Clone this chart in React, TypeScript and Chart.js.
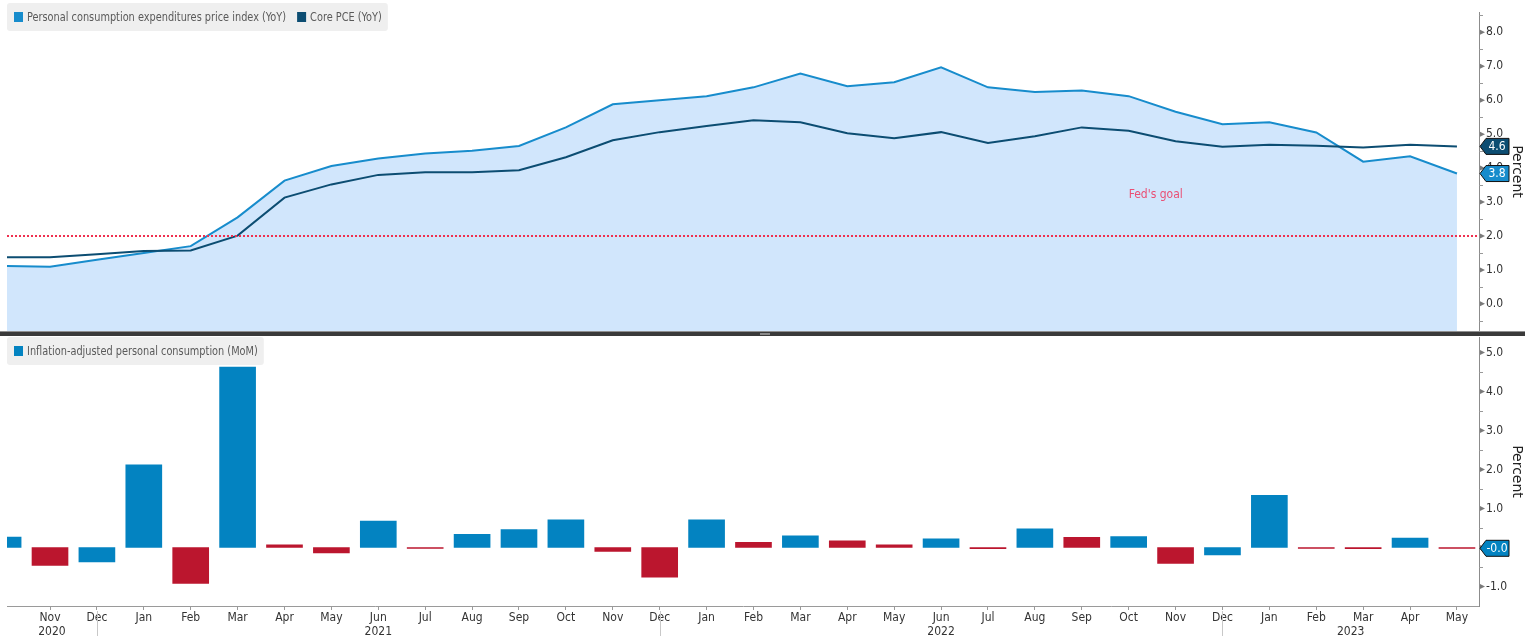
import React, { useEffect, useRef } from 'react';
import { Chart, registerables } from 'chart.js';

Chart.register(...registerables);

// ---------- data ----------
// index 0 = Oct 2020 ... index 31 = May 2023
const MONTHS = [
  'Oct', 'Nov', 'Dec',
  'Jan', 'Feb', 'Mar', 'Apr', 'May', 'Jun', 'Jul', 'Aug', 'Sep', 'Oct', 'Nov', 'Dec',
  'Jan', 'Feb', 'Mar', 'Apr', 'May', 'Jun', 'Jul', 'Aug', 'Sep', 'Oct', 'Nov', 'Dec',
  'Jan', 'Feb', 'Mar', 'Apr', 'May',
];
const YEARS = ['2020', '2021', '2022', '2023'];

const PCE_YOY = [
  1.12, 1.09, 1.3, 1.5, 1.7, 2.55, 3.63, 4.06, 4.28, 4.43, 4.51, 4.65, 5.2, 5.88, 6.0,
  6.12, 6.38, 6.79, 6.41, 6.53, 6.97, 6.38, 6.24, 6.29, 6.12, 5.66, 5.29,
  5.35, 5.05, 4.19, 4.35, 3.84,
];
const CORE_PCE_YOY = [
  1.37, 1.37, 1.46, 1.56, 1.57, 2.01, 3.13, 3.52, 3.8, 3.88, 3.88, 3.94, 4.32, 4.82, 5.06,
  5.24, 5.41, 5.35, 5.03, 4.88, 5.06, 4.74, 4.94, 5.2, 5.1, 4.79, 4.63,
  4.69, 4.66, 4.61, 4.69, 4.64,
];
const REAL_CONSUMPTION_MOM = [
  0.27, -0.46, -0.37, 2.12, -0.92, 4.63, 0.07, -0.14, 0.68, -0.02, 0.34, 0.46, 0.71, -0.1, -0.76,
  0.71, 0.13, 0.3, 0.17, 0.07, 0.22, -0.03, 0.48, 0.26, 0.28, -0.41, -0.19,
  1.34, -0.02, -0.03, 0.24, -0.02,
];
const FED_GOAL = 2.0;
const FED_LABEL = "Fed's goal";

const TOP_TICKS = [0, 1, 2, 3, 4, 5, 6, 7, 8];
const TOP_MINOR = [-0.5, 0.5, 1.5, 2.5, 3.5, 4.5, 5.5, 6.5, 7.5, 8.5];
const BOT_TICKS = [-1, 0, 1, 2, 3, 4, 5];
const BOT_MINOR = [-0.5, 0.5, 1.5, 2.5, 3.5, 4.5];

const LEGEND_TOP = ['Personal consumption expenditures price index (YoY)', 'Core PCE (YoY)'];
const LEGEND_BOT = ['Inflation-adjusted personal consumption (MoM)'];

// ---------- styles ----------
const FONT = '"DejaVu Sans Condensed", "Liberation Sans Narrow", "Arial Narrow", sans-serif';
const PCE_COLOR = '#178ccc';
const CORE_COLOR = '#0c4d72';
const FILL_COLOR = '#d1e6fc';
const BAR_UP = '#0383c1';
const BAR_DOWN = '#bb162e';
const FED_COLOR = '#f0304f';
const AXIS_COLOR = '#8c8c8c';
const X_MIN = 0.083;
const X_MAX = 31.47;
const LEGEND_SX = 0.835;

Chart.defaults.font.family = FONT;

function drawLegend(ctx: CanvasRenderingContext2D, x: number, y: number, labels: string[], colors: string[]) {
  ctx.save();
  ctx.font = `13px ${FONT}`;
  let cx = x + 7;
  const items: { sx: number; tx: number; label: string; color: string }[] = [];
  labels.forEach((label, i) => {
    const w = ctx.measureText(label).width * LEGEND_SX;
    items.push({ sx: cx, tx: cx + 13, label, color: colors[i] });
    cx = cx + 13 + w + 11;
  });
  const boxW = cx - 11 + 6 - x;
  ctx.fillStyle = '#efefef';
  ctx.beginPath();
  (ctx as any).roundRect ? (ctx as any).roundRect(x, y, boxW, 28, 3) : ctx.rect(x, y, boxW, 28);
  ctx.fill();
  ctx.textBaseline = 'middle';
  ctx.textAlign = 'left';
  items.forEach((it) => {
    ctx.fillStyle = it.color;
    ctx.fillRect(it.sx, y + 9, 9, 10);
    ctx.fillStyle = '#5a5a5a';
    ctx.save();
    ctx.translate(it.tx, y + 15);
    ctx.scale(LEGEND_SX, 1);
    ctx.fillText(it.label, 0, 0);
    ctx.restore();
  });
  ctx.restore();
}

function drawBadge(ctx: CanvasRenderingContext2D, ax: number, py: number, text: string, color: string) {
  ctx.save();
  ctx.beginPath();
  ctx.moveTo(ax + 1, py);
  ctx.lineTo(ax + 7, py - 8);
  ctx.lineTo(ax + 30, py - 8);
  ctx.lineTo(ax + 30, py + 8);
  ctx.lineTo(ax + 7, py + 8);
  ctx.closePath();
  ctx.fillStyle = color;
  ctx.fill();
  ctx.strokeStyle = '#111';
  ctx.lineWidth = 1;
  ctx.stroke();
  ctx.fillStyle = '#ffffff';
  ctx.font = `12px ${FONT}`;
  ctx.textAlign = 'center';
  ctx.textBaseline = 'middle';
  ctx.fillText(text, ax + 18, py + 0.5);
  ctx.restore();
}

function drawAxisMarks(chart: any, major: number[], minor: number[]) {
  const ctx: CanvasRenderingContext2D = chart.ctx;
  const ys = chart.scales.y;
  const ax = ys.left;
  ctx.save();
  ctx.fillStyle = '#7a7a7a';
  major.forEach((v) => {
    const py = ys.getPixelForValue(v);
    ctx.beginPath();
    ctx.moveTo(ax + 1, py - 2.5);
    ctx.lineTo(ax + 6, py);
    ctx.lineTo(ax + 1, py + 2.5);
    ctx.closePath();
    ctx.fill();
  });
  ctx.strokeStyle = '#999';
  ctx.lineWidth = 1;
  minor.forEach((v) => {
    const py = Math.round(ys.getPixelForValue(v)) + 0.5;
    ctx.beginPath();
    ctx.moveTo(ax, py);
    ctx.lineTo(ax + 4, py);
    ctx.stroke();
  });
  ctx.restore();
}

const topDecor = {
  id: 'topDecor',
  afterDatasetsDraw(chart: any) {
    const ctx: CanvasRenderingContext2D = chart.ctx;
    const xs = chart.scales.x;
    const ys = chart.scales.y;
    const area = chart.chartArea;
    ctx.save();
    const gy = Math.round(ys.getPixelForValue(FED_GOAL));
    ctx.strokeStyle = FED_COLOR;
    ctx.lineWidth = 2;
    ctx.setLineDash([2, 2]);
    ctx.beginPath();
    ctx.moveTo(area.left, gy);
    ctx.lineTo(area.right, gy);
    ctx.stroke();
    ctx.setLineDash([]);
    ctx.fillStyle = '#ea4f74';
    ctx.font = `12px ${FONT}`;
    ctx.textAlign = 'left';
    ctx.textBaseline = 'middle';
    ctx.fillText(FED_LABEL, xs.getPixelForValue(24), ys.getPixelForValue(3.2));
    ctx.restore();
  },
  afterDraw(chart: any) {
    const ctx: CanvasRenderingContext2D = chart.ctx;
    const ys = chart.scales.y;
    const area = chart.chartArea;
    drawAxisMarks(chart, TOP_TICKS, TOP_MINOR);
    ctx.save();
    ctx.fillStyle = '#8f8f8f';
    ctx.fillRect(0, area.bottom, 1525, 1);
    ctx.fillStyle = '#3a3a3a';
    ctx.fillRect(0, area.bottom + 1, 1525, 4);
    ctx.fillStyle = '#8a8a8a';
    ctx.fillRect(760, area.bottom + 2, 10, 2);
    ctx.restore();
    drawLegend(ctx, 7, 3, LEGEND_TOP, [PCE_COLOR, CORE_COLOR]);
    const lastCore = CORE_PCE_YOY[CORE_PCE_YOY.length - 1];
    const lastPce = PCE_YOY[PCE_YOY.length - 1];
    drawBadge(ctx, ys.left, ys.getPixelForValue(lastCore), lastCore.toFixed(1), CORE_COLOR);
    drawBadge(ctx, ys.left, ys.getPixelForValue(lastPce), lastPce.toFixed(1), PCE_COLOR);
  },
};

const botDecor = {
  id: 'botDecor',
  afterDraw(chart: any) {
    const ctx: CanvasRenderingContext2D = chart.ctx;
    const xs = chart.scales.x;
    const ys = chart.scales.y;
    drawAxisMarks(chart, BOT_TICKS, BOT_MINOR);
    const decIdx = MONTHS.map((m, i) => (m === 'Dec' ? i : -1)).filter((i) => i >= 0);
    const bounds = [xs.left, ...decIdx.map((i) => xs.getPixelForValue(i)), xs.right];
    ctx.save();
    ctx.strokeStyle = '#c8c8c8';
    ctx.lineWidth = 1;
    decIdx.forEach((i) => {
      const px = Math.round(xs.getPixelForValue(i)) + 0.5;
      ctx.beginPath();
      ctx.moveTo(px, xs.top + 5);
      ctx.lineTo(px, chart.height);
      ctx.stroke();
    });
    ctx.fillStyle = '#333';
    ctx.font = `12px ${FONT}`;
    ctx.textAlign = 'center';
    ctx.textBaseline = 'middle';
    YEARS.forEach((yr, k) => {
      const mid = (bounds[k] + bounds[k + 1]) / 2;
      ctx.fillText(yr, mid, xs.top + 26);
    });
    ctx.restore();
    drawLegend(ctx, 7, 1, LEGEND_BOT, [BAR_UP]);
    const last = REAL_CONSUMPTION_MOM[REAL_CONSUMPTION_MOM.length - 1];
    drawBadge(ctx, ys.left, ys.getPixelForValue(last), last.toFixed(1), BAR_UP);
  },
};

function yAxis(min: number, max: number, ticks: number[]) {
  return {
    type: 'linear' as const,
    position: 'right' as const,
    min,
    max,
    afterBuildTicks: (s: any) => {
      s.ticks = ticks.map((v) => ({ value: v }));
    },
    afterFit: (s: any) => {
      s.width = 53;
      s.paddingTop = 0;
      s.paddingBottom = 0;
    },
    grid: { display: false, drawTicks: false },
    border: { display: true, color: AXIS_COLOR, width: 1 },
    ticks: {
      padding: 7,
      color: '#333',
      font: { size: 12, family: FONT },
      callback: (v: any) => Number(v).toFixed(1),
    },
    title: {
      display: true,
      text: 'Percent',
      color: '#222',
      font: { size: 14, family: '"DejaVu Sans", sans-serif' },
      padding: { top: 6.6, bottom: 0 },
    },
  };
}

export default function App() {
  const topRef = useRef<HTMLCanvasElement>(null);
  const botRef = useRef<HTMLCanvasElement>(null);

  useEffect(() => {
    document.body.style.margin = '0';
    const top = new Chart(topRef.current as HTMLCanvasElement, {
      type: 'line',
      data: {
        datasets: [
          {
            label: LEGEND_TOP[1],
            data: CORE_PCE_YOY.map((v, i) => ({ x: i, y: v })),
            borderColor: CORE_COLOR,
            borderWidth: 2,
            pointRadius: 0,
            fill: false,
            order: 1,
          },
          {
            label: LEGEND_TOP[0],
            data: PCE_YOY.map((v, i) => ({ x: i, y: v })),
            borderColor: PCE_COLOR,
            backgroundColor: FILL_COLOR,
            borderWidth: 2,
            pointRadius: 0,
            fill: 'start',
            order: 2,
          },
        ],
      },
      options: {
        responsive: false,
        animation: false,
        devicePixelRatio: 1,
        layout: { padding: { left: 7, right: 0, top: 12, bottom: 5 } },
        elements: { line: { tension: 0 } },
        plugins: {
          legend: { display: false },
          tooltip: { enabled: false },
          filler: { drawTime: 'beforeDatasetsDraw' },
        } as any,
        scales: {
          x: { type: 'linear', display: false, min: X_MIN, max: X_MAX },
          y: yAxis(-0.8, 8.6, TOP_TICKS) as any,
        },
      },
      plugins: [topDecor],
    });

    const bot = new Chart(botRef.current as HTMLCanvasElement, {
      type: 'bar',
      data: {
        datasets: [
          {
            label: LEGEND_BOT[0],
            data: REAL_CONSUMPTION_MOM.map((v, i) => ({ x: i, y: v })),
            backgroundColor: REAL_CONSUMPTION_MOM.map((v, i) =>
              i === 0 || v >= REAL_CONSUMPTION_MOM[i - 1] ? BAR_UP : BAR_DOWN
            ),
            borderWidth: 0,
            barThickness: 36,
          },
        ],
      },
      options: {
        responsive: false,
        animation: false,
        devicePixelRatio: 1,
        layout: { padding: { left: 7, right: 0, top: 1, bottom: 0 } },
        plugins: { legend: { display: false }, tooltip: { enabled: false } },
        scales: {
          x: {
            type: 'linear',
            min: X_MIN,
            max: X_MAX,
            offset: false,
            afterBuildTicks: (s: any) => {
              s.ticks = MONTHS.map((_, i) => ({ value: i })).filter((t) => t.value >= X_MIN && t.value <= X_MAX);
            },
            afterFit: (s: any) => {
              s.height = 30;
              s.paddingLeft = 0;
              s.paddingRight = 0;
            },
            grid: { display: true, offset: false, drawOnChartArea: false, drawTicks: true, tickLength: 4, color: '#9a9a9a' },
            border: { display: true, color: '#9a9a9a' },
            ticks: {
              autoSkip: false,
              maxRotation: 0,
              minRotation: 0,
              padding: 1,
              color: '#333',
              font: { size: 12, family: FONT },
              callback: (v: any) => MONTHS[Math.round(Number(v))],
            },
          } as any,
          y: yAxis(-1.5, 5.4, BOT_TICKS) as any,
        },
      },
      plugins: [botDecor],
    });

    return () => {
      top.destroy();
      bot.destroy();
    };
  }, []);

  return (
    <div style={{ width: 1532, height: 636, position: 'relative', background: '#ffffff' }}>
      <canvas
        ref={topRef}
        width={1532}
        height={336}
        style={{ position: 'absolute', left: 0, top: 0, width: 1532, height: 336, display: 'block' }}
      />
      <canvas
        ref={botRef}
        width={1532}
        height={300}
        style={{ position: 'absolute', left: 0, top: 336, width: 1532, height: 300, display: 'block' }}
      />
    </div>
  );
}
